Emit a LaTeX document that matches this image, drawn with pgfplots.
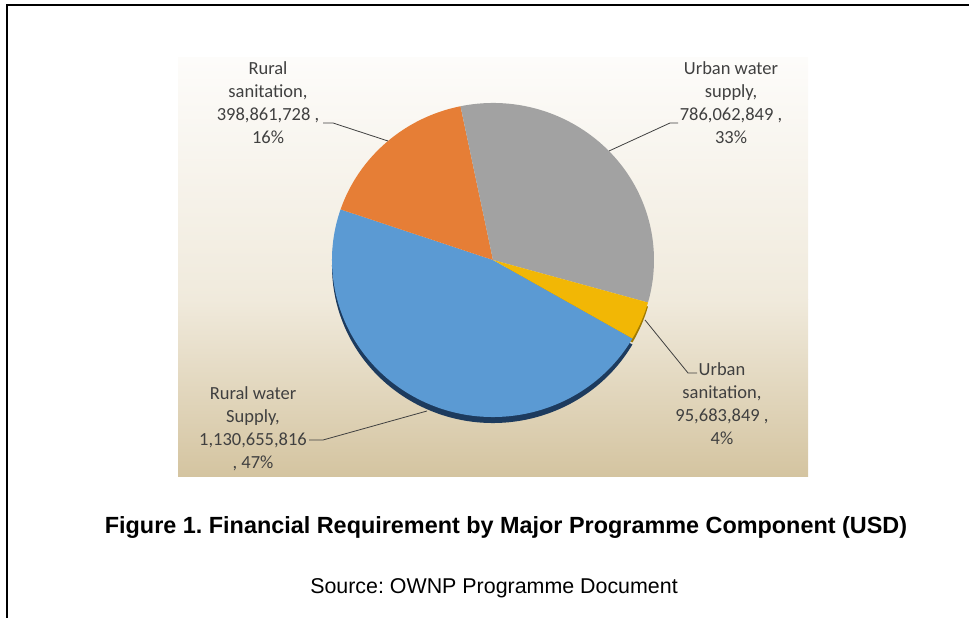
\documentclass[border=0pt]{standalone}
\usepackage{pgfplots}
\usepackage{pgfplotstable}
\pgfplotsset{compat=1.18}
\usepackage{fontspec}
\setmainfont{Liberation Sans}
\newfontfamily\calib{Carlito}
\frenchspacing

\definecolor{cBlue}{HTML}{5B9AD3}
\definecolor{cOrange}{HTML}{E67E36}
\definecolor{cGray}{HTML}{A2A2A2}
\definecolor{cYellow}{HTML}{F2B705}
\definecolor{sBlue}{HTML}{1D3B5E}
\definecolor{sYellow}{HTML}{A07A00}
\definecolor{bgTop}{HTML}{FDFCFA}
\definecolor{bgMid}{HTML}{F0EADC}
\definecolor{bgBot}{HTML}{D4C4A0}
\definecolor{lbl}{HTML}{404040}

\pgfplotstableread{
idx value
0 1130655816
1 398861728
2 786062849
3 95683849
}\piedata

\begin{document}
\begin{tikzpicture}
\useasboundingbox (0,0) rectangle (969bp,618bp);
\pgfplotstablegetelem{0}{value}\of\piedata \edef\vA{\pgfplotsretval}
\pgfplotstablegetelem{1}{value}\of\piedata \edef\vB{\pgfplotsretval}
\pgfplotstablegetelem{2}{value}\of\piedata \edef\vC{\pgfplotsretval}
\pgfplotstablegetelem{3}{value}\of\piedata \edef\vD{\pgfplotsretval}
\edef\tot{\fpeval{\vA+\vB+\vC+\vD}}
\edef\aA{-30}
\edef\aB{\fpeval{round(\aA - 360*\vA/\tot,4)}}
\edef\aC{\fpeval{round(\aB - 360*\vB/\tot,4)}}
\edef\aD{\fpeval{round(\aC - 360*\vC/\tot,4)}}
\edef\aE{\fpeval{round(\aD - 360*\vD/\tot,4)}}
\begin{axis}[at={(0,0)}, anchor=south west, scale only axis,
  width=969bp, height=618bp, xmin=0, xmax=969, ymin=0, ymax=618,
  hide axis, clip=false]
% frame
\draw[line width=2bp, black] (axis cs:7,0) -- (axis cs:7,613) -- (axis cs:969,613);
% chart background
\shade[top color=bgTop, bottom color=bgMid] (axis cs:178,318) rectangle (axis cs:808,560);
\shade[top color=bgMid, bottom color=bgBot] (axis cs:178,141) rectangle (axis cs:808,318.5);
% 3D depth
\fill[sBlue] (axis cs:493,352) -- ++(\aA:161bp and 157bp) arc[start angle=\aA, end angle=\aB, x radius=161bp, y radius=157bp] -- cycle;
\fill[sYellow] (axis cs:493,354) -- ++(\aD:161bp and 157bp) arc[start angle=\aD, end angle=\aE, x radius=161bp, y radius=157bp] -- cycle;
% slices
\fill[cBlue] (axis cs:493,358) -- ++(\aA:161bp and 157bp) arc[start angle=\aA, end angle=\aB, x radius=161bp, y radius=157bp] -- cycle;
\fill[cOrange] (axis cs:493,358) -- ++(\aB:161bp and 157bp) arc[start angle=\aB, end angle=\aC, x radius=161bp, y radius=157bp] -- cycle;
\fill[cGray] (axis cs:493,358) -- ++(\aC:161bp and 157bp) arc[start angle=\aC, end angle=\aD, x radius=161bp, y radius=157bp] -- cycle;
\fill[cYellow] (axis cs:493,358) -- ++(\aD:161bp and 157bp) arc[start angle=\aD, end angle=\aE, x radius=161bp, y radius=157bp] -- cycle;
% leader lines
\draw[lbl, line width=0.8bp] (axis cs:323,495) -- (axis cs:333,495) -- (axis cs:388,477);
\draw[lbl, line width=0.8bp] (axis cs:678,495) -- (axis cs:670,495) -- (axis cs:609,467);
\draw[lbl, line width=0.8bp] (axis cs:697,245) -- (axis cs:688,245) -- (axis cs:645,298);
\draw[lbl, line width=0.8bp] (axis cs:309,178) -- (axis cs:323,178) -- (axis cs:427,207);
% labels
\tikzset{lab/.style={align=center, text=lbl, inner sep=0pt, font=\calib\fontsize{18.5bp}{23bp}\selectfont}}
\node[lab] at (axis cs:268,515) {Rural\\sanitation,\\398,861,728 ,\\16\%};
\node[lab] at (axis cs:731,515) {Urban water\\supply,\\786,062,849 ,\\33\%};
\node[lab] at (axis cs:722,214) {Urban\\sanitation,\\95,683,849 ,\\4\%};
\node[lab] at (axis cs:253,189) {Rural water\\Supply,\\1,130,655,816\\, 47\%};
% title and source
\node[font=\bfseries\fontsize{23.4bp}{27bp}\selectfont, inner sep=0pt] at (axis cs:506,90) {Figure 1. Financial Requirement by Major Programme Component (USD)};
\node[font=\fontsize{21.4bp}{25bp}\selectfont, inner sep=0pt] at (axis cs:494,30) {Source: OWNP Programme Document};
\end{axis}
\end{tikzpicture}
\end{document}
